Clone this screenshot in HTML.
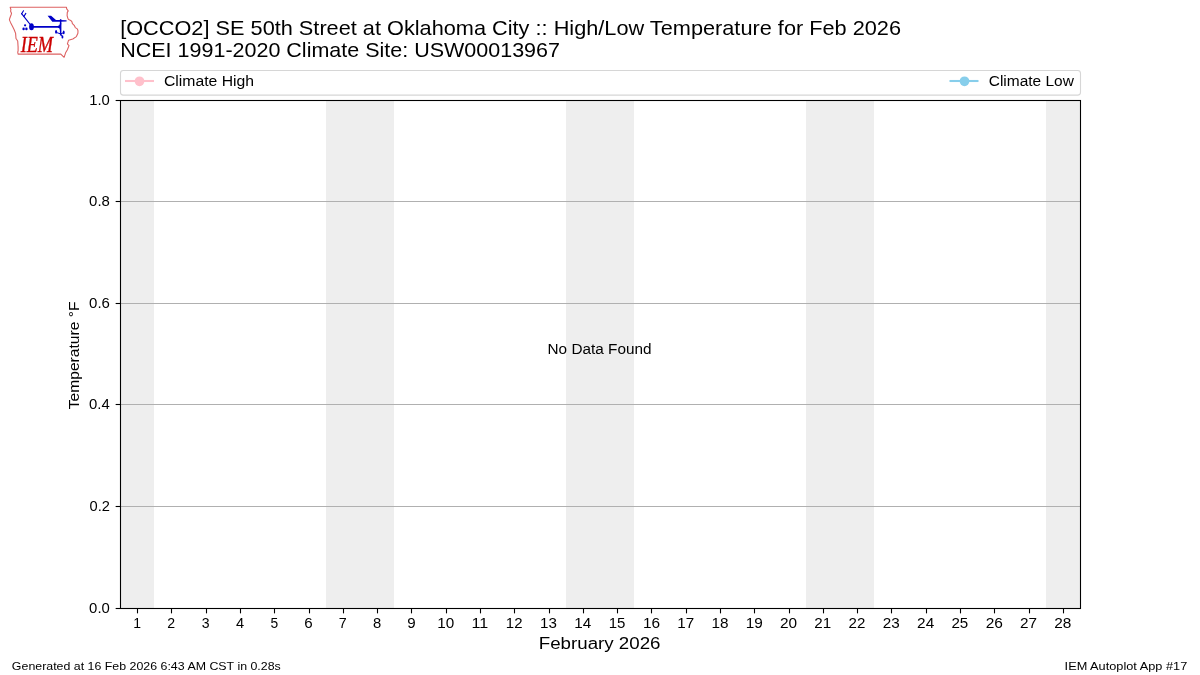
<!DOCTYPE html>
<html><head><meta charset="utf-8"><title>IEM Autoplot</title>
<style>
html,body{margin:0;padding:0;background:#fff;}
body{width:1200px;height:675px;overflow:hidden;}
svg{display:block;}
.t text{font-family:"Liberation Sans", sans-serif; fill:#000;}
</style></head><body>
<svg width="1200" height="675" viewBox="0 0 1200 675">
<rect x="0" y="0" width="1200" height="675" fill="#fff"/>
<rect x="120" y="100" width="34" height="508" fill="#eeeeee"/>
<rect x="326" y="100" width="68" height="508" fill="#eeeeee"/>
<rect x="566" y="100" width="68" height="508" fill="#eeeeee"/>
<rect x="806" y="100" width="68" height="508" fill="#eeeeee"/>
<rect x="1046" y="100" width="34" height="508" fill="#eeeeee"/>
<line x1="120.5" y1="506.5" x2="1080.5" y2="506.5" stroke="#b0b0b0" stroke-width="1.1"/>
<line x1="120.5" y1="404.5" x2="1080.5" y2="404.5" stroke="#b0b0b0" stroke-width="1.1"/>
<line x1="120.5" y1="303.5" x2="1080.5" y2="303.5" stroke="#b0b0b0" stroke-width="1.1"/>
<line x1="120.5" y1="201.5" x2="1080.5" y2="201.5" stroke="#b0b0b0" stroke-width="1.1"/>
<rect x="120.5" y="100.5" width="960" height="508" fill="none" stroke="#000" stroke-width="1.1"/>
<line x1="115.64" y1="608.5" x2="120.5" y2="608.5" stroke="#000" stroke-width="1.1"/>
<line x1="115.64" y1="506.5" x2="120.5" y2="506.5" stroke="#000" stroke-width="1.1"/>
<line x1="115.64" y1="404.5" x2="120.5" y2="404.5" stroke="#000" stroke-width="1.1"/>
<line x1="115.64" y1="303.5" x2="120.5" y2="303.5" stroke="#000" stroke-width="1.1"/>
<line x1="115.64" y1="201.5" x2="120.5" y2="201.5" stroke="#000" stroke-width="1.1"/>
<line x1="115.64" y1="100.5" x2="120.5" y2="100.5" stroke="#000" stroke-width="1.1"/>
<line x1="137.5" y1="608.5" x2="137.5" y2="613.36" stroke="#000" stroke-width="1.1"/>
<line x1="171.5" y1="608.5" x2="171.5" y2="613.36" stroke="#000" stroke-width="1.1"/>
<line x1="206.5" y1="608.5" x2="206.5" y2="613.36" stroke="#000" stroke-width="1.1"/>
<line x1="240.5" y1="608.5" x2="240.5" y2="613.36" stroke="#000" stroke-width="1.1"/>
<line x1="274.5" y1="608.5" x2="274.5" y2="613.36" stroke="#000" stroke-width="1.1"/>
<line x1="309.5" y1="608.5" x2="309.5" y2="613.36" stroke="#000" stroke-width="1.1"/>
<line x1="343.5" y1="608.5" x2="343.5" y2="613.36" stroke="#000" stroke-width="1.1"/>
<line x1="377.5" y1="608.5" x2="377.5" y2="613.36" stroke="#000" stroke-width="1.1"/>
<line x1="411.5" y1="608.5" x2="411.5" y2="613.36" stroke="#000" stroke-width="1.1"/>
<line x1="446.5" y1="608.5" x2="446.5" y2="613.36" stroke="#000" stroke-width="1.1"/>
<line x1="480.5" y1="608.5" x2="480.5" y2="613.36" stroke="#000" stroke-width="1.1"/>
<line x1="514.5" y1="608.5" x2="514.5" y2="613.36" stroke="#000" stroke-width="1.1"/>
<line x1="549.5" y1="608.5" x2="549.5" y2="613.36" stroke="#000" stroke-width="1.1"/>
<line x1="583.5" y1="608.5" x2="583.5" y2="613.36" stroke="#000" stroke-width="1.1"/>
<line x1="617.5" y1="608.5" x2="617.5" y2="613.36" stroke="#000" stroke-width="1.1"/>
<line x1="651.5" y1="608.5" x2="651.5" y2="613.36" stroke="#000" stroke-width="1.1"/>
<line x1="686.5" y1="608.5" x2="686.5" y2="613.36" stroke="#000" stroke-width="1.1"/>
<line x1="720.5" y1="608.5" x2="720.5" y2="613.36" stroke="#000" stroke-width="1.1"/>
<line x1="754.5" y1="608.5" x2="754.5" y2="613.36" stroke="#000" stroke-width="1.1"/>
<line x1="789.5" y1="608.5" x2="789.5" y2="613.36" stroke="#000" stroke-width="1.1"/>
<line x1="823.5" y1="608.5" x2="823.5" y2="613.36" stroke="#000" stroke-width="1.1"/>
<line x1="857.5" y1="608.5" x2="857.5" y2="613.36" stroke="#000" stroke-width="1.1"/>
<line x1="891.5" y1="608.5" x2="891.5" y2="613.36" stroke="#000" stroke-width="1.1"/>
<line x1="926.5" y1="608.5" x2="926.5" y2="613.36" stroke="#000" stroke-width="1.1"/>
<line x1="960.5" y1="608.5" x2="960.5" y2="613.36" stroke="#000" stroke-width="1.1"/>
<line x1="994.5" y1="608.5" x2="994.5" y2="613.36" stroke="#000" stroke-width="1.1"/>
<line x1="1029.5" y1="608.5" x2="1029.5" y2="613.36" stroke="#000" stroke-width="1.1"/>
<line x1="1063.5" y1="608.5" x2="1063.5" y2="613.36" stroke="#000" stroke-width="1.1"/>
<rect x="120.5" y="70.5" width="960" height="24.6" rx="2.8" ry="2.8" fill="#fff" fill-opacity="0.8" stroke="#d6d6d6" stroke-width="1.1"/>
<line x1="125" y1="81" x2="154" y2="81" stroke="#ffc0cb" stroke-width="2.08"/>
<circle cx="139.5" cy="81.3" r="4.85" fill="#ffc0cb"/>
<line x1="949.5" y1="81" x2="978.5" y2="81" stroke="#87ceeb" stroke-width="2.08"/>
<circle cx="964.5" cy="81.3" r="4.85" fill="#87ceeb"/>
<polygon points="10.2,7.3 66.4,7.2 66.7,8.9 68.2,10.9 67.3,12.4 67.1,15.6 67.8,18.2 68.7,19.6 70.7,20.4 72,21.8 72.4,23.6 74.2,25.3 75.3,27.6 77.3,28.9 78,30.7 77.9,33.3 76.4,36.6 72.8,39 68.6,40.2 67.4,43.8 69.0,45.6 67.4,49.8 65.6,52.8 64.1,57.3 60.8,54.1 18.1,54.1 17.7,52 18.1,51.1 18.1,46.9 17.7,41 16,38.5 15.6,33.4 14.3,30 12.6,26.6 10.5,22.4 9.4,19.9 9.8,18.2 11.2,14.5 11.5,13.3 10.6,11.2 10.9,9.5" fill="none" stroke="#dd6262" stroke-width="1.1" stroke-linejoin="round"/>
<g fill="#0000c8" stroke="#0000c8" stroke-linecap="round">
<line x1="31.0" y1="25.5" x2="21.6" y2="13.7" stroke-width="1.2"/>
<line x1="21.6" y1="13.7" x2="23.5" y2="10.8" stroke-width="1.15"/>
<line x1="23.9" y1="16.5" x2="25.8" y2="13.4" stroke-width="1.15"/>
<ellipse cx="31.5" cy="26.8" rx="2.4" ry="3.5" stroke="none"/>
<ellipse cx="23.6" cy="28.9" rx="1.2" ry="1.35" stroke="none"/><ellipse cx="26.4" cy="28.9" rx="1.2" ry="1.35" stroke="none"/><ellipse cx="25.1" cy="25.3" rx="1.1" ry="1.15" stroke="none"/>
<path d="M31.5 26.0 L57.8 26.0 Q59.8 25.6 59.9 23.4 L61.4 23.4 L61.4 35.5 L59.9 35.5 L59.9 30 Q59.8 27.9 57.8 27.8 L31.5 27.8 Z" stroke="none"/>
<rect x="59.9" y="19.2" width="1.5" height="5" stroke="none"/>
<path d="M47.6 15.8 L51.1 15.8 L56 19.9 L60 20.0 L65.9 20.2 L67.2 20.9 L65.9 21.6 L60 21.8 L52.3 21.8 Z" stroke="none"/>
<ellipse cx="56.1" cy="31.8" rx="1.05" ry="1.85" stroke="none"/><ellipse cx="63.7" cy="32.45" rx="0.95" ry="1.85" stroke="none"/><ellipse cx="62.45" cy="36.9" rx="0.95" ry="1.55" stroke="none"/>
<line x1="56.2" y1="32.4" x2="60.6" y2="33.9" stroke-width="1.0"/><line x1="60.6" y1="33.9" x2="63.5" y2="32.8" stroke-width="1.0"/><line x1="60.6" y1="34" x2="62.3" y2="36.5" stroke-width="1.0"/>
</g>
<g style="will-change:transform"><text x="20.67" y="51.6" style="font-family:'Liberation Serif', serif;font-style:italic;font-size:22.4px;fill:#cc0000;stroke:#cc0000;stroke-width:0.35px" textLength="32.39" lengthAdjust="spacingAndGlyphs">IEM</text></g>
<g class="t" style="will-change:transform">
<text x="120.16" y="35.00" font-size="20.60" textLength="780.89" lengthAdjust="spacingAndGlyphs" >[OCCO2] SE 50th Street at Oklahoma City :: High/Low Temperature for Feb 2026</text>
<text x="120.24" y="57.00" font-size="20.60" textLength="439.74" lengthAdjust="spacingAndGlyphs" >NCEI 1991-2020 Climate Site: USW00013967</text>
<text x="163.95" y="85.60" font-size="14.72" textLength="90.17" lengthAdjust="spacingAndGlyphs" >Climate High</text>
<text x="988.71" y="85.60" font-size="14.72" textLength="85.15" lengthAdjust="spacingAndGlyphs" >Climate Low</text>
<text x="547.54" y="353.80" font-size="14.72" textLength="103.95" lengthAdjust="spacingAndGlyphs" >No Data Found</text>
<text x="538.76" y="648.90" font-size="17.25" textLength="121.76" lengthAdjust="spacingAndGlyphs" >February 2026</text>
<text x="11.88" y="669.80" font-size="11.77" textLength="268.87" lengthAdjust="spacingAndGlyphs" >Generated at 16 Feb 2026 6:43 AM CST in 0.28s</text>
<text x="1064.64" y="669.90" font-size="11.77" textLength="122.60" lengthAdjust="spacingAndGlyphs" >IEM Autoplot App #17</text>
<text x="89.12" y="612.90" font-size="14.72" textLength="20.71" lengthAdjust="spacingAndGlyphs" >0.0</text>
<text x="89.59" y="510.90" font-size="14.72" textLength="20.39" lengthAdjust="spacingAndGlyphs" >0.2</text>
<text x="88.98" y="408.90" font-size="14.72" textLength="20.71" lengthAdjust="spacingAndGlyphs" >0.4</text>
<text x="89.07" y="307.90" font-size="14.72" textLength="20.84" lengthAdjust="spacingAndGlyphs" >0.6</text>
<text x="89.14" y="205.90" font-size="14.72" textLength="20.76" lengthAdjust="spacingAndGlyphs" >0.8</text>
<text x="89.18" y="104.90" font-size="14.72" textLength="20.65" lengthAdjust="spacingAndGlyphs" >1.0</text>
<text x="133.19" y="628.00" font-size="14.72" textLength="7.78" lengthAdjust="spacingAndGlyphs" >1</text>
<text x="167.32" y="628.00" font-size="14.72" textLength="7.85" lengthAdjust="spacingAndGlyphs" >2</text>
<text x="201.82" y="628.00" font-size="14.72" textLength="7.82" lengthAdjust="spacingAndGlyphs" >3</text>
<text x="235.92" y="628.00" font-size="14.72" textLength="8.14" lengthAdjust="spacingAndGlyphs" >4</text>
<text x="270.39" y="628.00" font-size="14.72" textLength="7.68" lengthAdjust="spacingAndGlyphs" >5</text>
<text x="304.35" y="628.00" font-size="14.72" textLength="8.43" lengthAdjust="spacingAndGlyphs" >6</text>
<text x="338.84" y="628.00" font-size="14.72" textLength="7.96" lengthAdjust="spacingAndGlyphs" >7</text>
<text x="373.02" y="628.00" font-size="14.72" textLength="8.23" lengthAdjust="spacingAndGlyphs" >8</text>
<text x="407.18" y="628.00" font-size="14.72" textLength="8.41" lengthAdjust="spacingAndGlyphs" >9</text>
<text x="437.24" y="628.00" font-size="14.72" textLength="16.98" lengthAdjust="spacingAndGlyphs" >10</text>
<text x="471.54" y="628.00" font-size="14.72" textLength="16.75" lengthAdjust="spacingAndGlyphs" >11</text>
<text x="505.83" y="628.00" font-size="14.72" textLength="16.65" lengthAdjust="spacingAndGlyphs" >12</text>
<text x="540.11" y="628.00" font-size="14.72" textLength="16.86" lengthAdjust="spacingAndGlyphs" >13</text>
<text x="574.38" y="628.00" font-size="14.72" textLength="16.98" lengthAdjust="spacingAndGlyphs" >14</text>
<text x="608.69" y="628.00" font-size="14.72" textLength="16.71" lengthAdjust="spacingAndGlyphs" >15</text>
<text x="642.95" y="628.00" font-size="14.72" textLength="17.12" lengthAdjust="spacingAndGlyphs" >16</text>
<text x="677.25" y="628.00" font-size="14.72" textLength="16.88" lengthAdjust="spacingAndGlyphs" >17</text>
<text x="711.52" y="628.00" font-size="14.72" textLength="17.03" lengthAdjust="spacingAndGlyphs" >18</text>
<text x="745.81" y="628.00" font-size="14.72" textLength="17.07" lengthAdjust="spacingAndGlyphs" >19</text>
<text x="779.98" y="628.00" font-size="14.72" textLength="17.11" lengthAdjust="spacingAndGlyphs" >20</text>
<text x="814.27" y="628.00" font-size="14.72" textLength="16.88" lengthAdjust="spacingAndGlyphs" >21</text>
<text x="848.56" y="628.00" font-size="14.72" textLength="16.78" lengthAdjust="spacingAndGlyphs" >22</text>
<text x="882.84" y="628.00" font-size="14.72" textLength="16.98" lengthAdjust="spacingAndGlyphs" >23</text>
<text x="917.12" y="628.00" font-size="14.72" textLength="17.10" lengthAdjust="spacingAndGlyphs" >24</text>
<text x="951.42" y="628.00" font-size="14.72" textLength="16.84" lengthAdjust="spacingAndGlyphs" >25</text>
<text x="985.69" y="628.00" font-size="14.72" textLength="17.24" lengthAdjust="spacingAndGlyphs" >26</text>
<text x="1019.98" y="628.00" font-size="14.72" textLength="17.01" lengthAdjust="spacingAndGlyphs" >27</text>
<text x="1054.26" y="628.00" font-size="14.72" textLength="17.15" lengthAdjust="spacingAndGlyphs" >28</text>
<g transform="translate(79,408.9) rotate(-90)"><text x="-0.35" y="0.00" font-size="14.72" textLength="107.76" lengthAdjust="spacingAndGlyphs" >Temperature °F</text></g>
</g>
</svg>
</body></html>
